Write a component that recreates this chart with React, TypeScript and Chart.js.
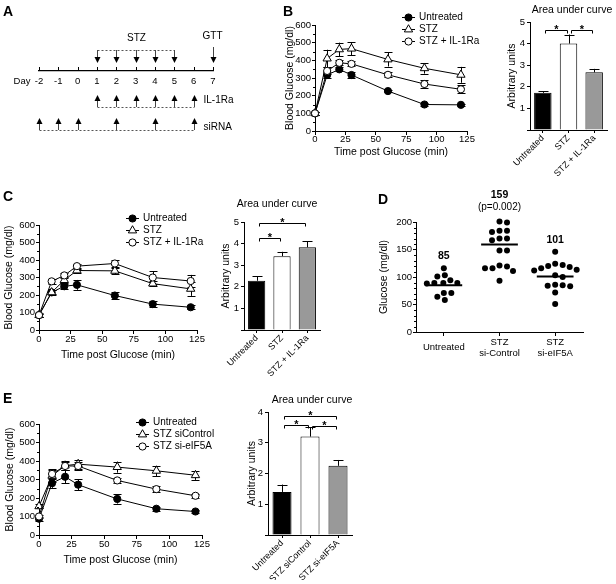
import React, { useEffect, useRef } from 'react';
import { Chart, registerables } from 'chart.js';

Chart.register(...registerables);

const FONT = "'Liberation Sans', Arial, Helvetica, sans-serif";
Chart.defaults.font.family = FONT;
Chart.defaults.font.size = 9;
Chart.defaults.color = '#000';

const W = 616;
const H = 584;

// ---------------- DATA ----------------
const timePoints = [0, 10, 20, 30, 60, 90, 120];

// Panel A timeline
const timelineDays = [-2, -1, 0, 1, 2, 3, 4, 5, 6, 7];
const stzDays = [1, 2, 3, 4, 5];
const gttDays = [7];
const il1raDays = [1, 2, 3, 4, 5, 6];
const sirnaDays = [-2, -1, 0, 2, 4, 6];

// Panel B
const bSeriesLabels = ['Untreated', 'STZ', 'STZ + IL-1Ra'];
const bUntreated = [100, 317, 349, 317, 226, 150, 148];
const bUntreatedErr = [8, 15, 12, 18, 8, 6, 6];
const bStz = [100, 410, 462, 466, 405, 355, 318];
const bStzErr = [8, 50, 38, 36, 40, 30, 45];
const bIl1ra = [100, 340, 386, 380, 318, 266, 236];
const bIl1raErr = [8, 20, 15, 14, 15, 22, 22];
const bAucLabels = ['Untreated', 'STZ', 'STZ + IL-1Ra'];
const bAuc = [1.72, 4.0, 2.67];
const bAucErr = [0.08, 0.42, 0.16];
const bBrackets = [{ a: 0, b: 1, y: 4.65 }, { a: 1, b: 2, y: 4.65 }];

// Panel C
const cSeriesLabels = ['Untreated', 'STZ', 'STZ + IL-1Ra'];
const cUntreated = [85, 215, 250, 258, 197, 148, 130];
const cUntreatedErr = [8, 15, 18, 28, 20, 15, 12];
const cStz = [85, 215, 285, 340, 338, 265, 235];
const cStzErr = [8, 12, 20, 15, 18, 15, 40];
const cIl1ra = [85, 278, 312, 365, 380, 300, 280];
const cIl1raErr = [10, 15, 15, 15, 18, 35, 35];
const cAucLabels = ['Untreated', 'STZ', 'STZ + IL-1Ra'];
const cAuc = [2.28, 3.42, 3.83];
const cAucErr = [0.2, 0.2, 0.27];
const cBrackets = [{ a: 0, b: 2, y: 4.95 }, { a: 0, b: 1, y: 4.27 }];

// Panel D
const dGroupNames: (string | string[])[] = ['Untreated', ['STZ', 'si-Control'], ['STZ', 'si-eIF5A']];
const dUntreated = [116, 103, 101, 94, 89, 89, 89, 88, 71, 71, 64, 58];
const dSiControl = [201, 199, 184, 182, 184, 170, 167, 170, 148, 148, 119, 116, 111, 116, 121, 93];
const dSiEif5a = [146, 124, 122, 120, 118, 116, 113, 112, 103, 100, 85, 84, 86, 83, 72, 51];
const dMeans = [85, 159, 101];
const dPValues = ['', '(p=0.002)', ''];

// Panel E
const eSeriesLabels = ['Untreated', 'STZ siControl', 'STZ si-eIF5A'];
const eUntreated = [88, 280, 315, 272, 195, 142, 127];
const eUntreatedErr = [10, 25, 35, 30, 25, 12, 8];
const eSiControl = [155, 320, 375, 383, 367, 347, 323];
const eSiControlErr = [10, 35, 25, 25, 30, 28, 25];
const eSiEif5a = [100, 330, 373, 373, 295, 248, 212];
const eSiEif5aErr = [10, 22, 20, 22, 15, 15, 12];
const eAucLabels = ['Untreated', 'STZ siControl', 'STZ si-eIF5A'];
const eAuc = [1.4, 3.2, 2.25];
const eAucErr = [0.24, 0.3, 0.19];
const eBrackets = [{ a: 0, b: 2, y: 3.88 }, { a: 0, b: 1, y: 3.58 }, { a: 1, b: 2, y: 3.55 }];

// ---------------- LAYOUT ----------------
type Box = { left: number; right: number; top: number; bottom: number; yw: number; xh: number };
const boxA: Box = { left: 39, right: 213, top: 20, bottom: 71, yw: 0, xh: 20 };
const boxB: Box = { left: 315, right: 467, top: 25, bottom: 131, yw: 31, xh: 27 };
const boxBbar: Box = { left: 530, right: 607, top: 22, bottom: 130, yw: 24, xh: 75 };
const boxC: Box = { left: 39, right: 197, top: 225, bottom: 330, yw: 36, xh: 31 };
const boxCbar: Box = { left: 244, right: 320, top: 222, bottom: 330, yw: 24, xh: 75 };
const boxD: Box = { left: 416, right: 583, top: 222, bottom: 332, yw: 38, xh: 30 };
const boxE: Box = { left: 39, right: 202, top: 424, bottom: 535, yw: 35, xh: 31 };
const boxEbar: Box = { left: 268, right: 352, top: 412, bottom: 535, yw: 22, xh: 45 };

const padFor = (b: Box) => ({ left: b.left - b.yw, top: b.top, right: W - b.right, bottom: H - b.bottom - b.xh });
const fit = (size: number) => (axis: any) => {
  if (axis.isHorizontal()) axis.height = size;
  else axis.width = size;
  axis.paddingLeft = 0;
  axis.paddingRight = 0;
  axis.paddingTop = 0;
  axis.paddingBottom = 0;
};
const gridOpts = (len: number) => ({ drawOnChartArea: false, color: '#000', lineWidth: 1, tickLength: len });
const borderOpts = { display: true, color: '#000', width: 1 };

// ---------------- PLUGINS ----------------
function textPlugin(items: { text: string; x: number; y: number; font?: string; align?: string; baseline?: string }[]) {
  return {
    id: 'texts',
    afterDraw(chart: any) {
      const ctx = chart.ctx;
      ctx.save();
      ctx.fillStyle = '#000';
      for (const it of items) {
        ctx.font = it.font || `10px ${FONT}`;
        ctx.textAlign = it.align || 'center';
        ctx.textBaseline = it.baseline || 'middle';
        ctx.fillText(it.text, it.x, it.y);
      }
      ctx.restore();
    },
  };
}

function errorBarPlugin(errs: number[][], cap: number, upOnly: boolean) {
  const draw = (chart: any) => {
    const ctx = chart.ctx;
    ctx.save();
    ctx.strokeStyle = '#000';
    ctx.lineWidth = 1;
    errs.forEach((arr, di) => {
      if (!arr) return;
      const meta = chart.getDatasetMeta(di);
      const ys = chart.scales[meta.yAxisID];
      const ds = chart.data.datasets[di];
      meta.data.forEach((el: any, i: number) => {
        const raw = ds.data[i];
        const v = typeof raw === 'number' ? raw : raw.y;
        const x = Math.round(el.x) + 0.5;
        const yt = ys.getPixelForValue(v + arr[i]);
        const yb = upOnly ? ys.getPixelForValue(v) : ys.getPixelForValue(v - arr[i]);
        ctx.beginPath();
        ctx.moveTo(x, yb);
        ctx.lineTo(x, yt);
        ctx.moveTo(x - cap, Math.round(yt) + 0.5);
        ctx.lineTo(x + cap, Math.round(yt) + 0.5);
        if (!upOnly) {
          ctx.moveTo(x - cap, Math.round(yb) + 0.5);
          ctx.lineTo(x + cap, Math.round(yb) + 0.5);
        }
        ctx.stroke();
      });
    });
    ctx.restore();
  };
  return upOnly ? { id: 'errorBars', afterDatasetsDraw: draw } : { id: 'errorBars', beforeDatasetsDraw: draw };
}

function minorTicksPlugin(specs: { axis: string; step: number; len: number }[]) {
  return {
    id: 'minorTicks',
    afterDraw(chart: any) {
      const ctx = chart.ctx;
      ctx.save();
      ctx.strokeStyle = '#000';
      ctx.lineWidth = 1;
      for (const s of specs) {
        const sc = chart.scales[s.axis];
        const major = sc.ticks.map((t: any) => t.value);
        for (let v = sc.min; v <= sc.max + 1e-9; v += s.step) {
          if (major.some((m: number) => Math.abs(m - v) < 1e-6)) continue;
          const p = Math.round(sc.getPixelForValue(v)) + 0.5;
          ctx.beginPath();
          if (s.axis === 'y') {
            const x = chart.chartArea.left;
            ctx.moveTo(x - s.len, p);
            ctx.lineTo(x, p);
          } else {
            const y = chart.chartArea.bottom;
            ctx.moveTo(p, y);
            ctx.lineTo(p, y + s.len);
          }
          ctx.stroke();
        }
      }
      ctx.restore();
    },
  };
}

function drawMarker(ctx: any, style: string, x: number, y: number, r: number, fill: string) {
  ctx.beginPath();
  if (style === 'triangle') {
    let rad = 0;
    ctx.moveTo(x + Math.sin(rad) * r, y - Math.cos(rad) * r);
    rad += (2 * Math.PI) / 3;
    ctx.lineTo(x + Math.sin(rad) * r, y - Math.cos(rad) * r);
    rad += (2 * Math.PI) / 3;
    ctx.lineTo(x + Math.sin(rad) * r, y - Math.cos(rad) * r);
    ctx.closePath();
  } else {
    ctx.arc(x, y, r, 0, Math.PI * 2);
  }
  ctx.fillStyle = fill;
  ctx.fill();
  ctx.strokeStyle = '#000';
  ctx.lineWidth = 1;
  ctx.stroke();
}

function lineLegendPlugin(x: number, y: number, dy: number) {
  return {
    id: 'lineLegend',
    afterDraw(chart: any) {
      const ctx = chart.ctx;
      ctx.save();
      chart.data.datasets.forEach((ds: any, i: number) => {
        const yy = y + i * dy;
        ctx.strokeStyle = '#000';
        ctx.lineWidth = 1;
        ctx.beginPath();
        ctx.moveTo(x, Math.round(yy) + 0.5);
        ctx.lineTo(x + 13, Math.round(yy) + 0.5);
        ctx.stroke();
        drawMarker(ctx, ds.pointStyle, x + 6.5, yy + 0.5, ds.pointRadius, ds.pointBackgroundColor);
        ctx.fillStyle = '#000';
        ctx.font = `10px ${FONT}`;
        ctx.textAlign = 'left';
        ctx.textBaseline = 'middle';
        ctx.fillText(ds.label, x + 17, yy + 0.5);
      });
      ctx.restore();
    },
  };
}

function bracketPlugin(brackets: { a: number; b: number; y: number }[]) {
  return {
    id: 'brackets',
    afterDraw(chart: any) {
      const ctx = chart.ctx;
      const xs = chart.scales.x;
      const ys = chart.scales.y;
      ctx.save();
      ctx.strokeStyle = '#000';
      ctx.lineWidth = 1;
      for (const br of brackets) {
        const x1 = Math.round(xs.getPixelForValue(br.a)) + 2.5;
        const x2 = Math.round(xs.getPixelForValue(br.b)) - 1.5;
        const y = Math.round(ys.getPixelForValue(br.y)) + 0.5;
        ctx.beginPath();
        ctx.moveTo(x1, y + 3);
        ctx.lineTo(x1, y);
        ctx.lineTo(x2, y);
        ctx.lineTo(x2, y + 3);
        ctx.stroke();
        ctx.fillStyle = '#000';
        ctx.font = `bold 11px ${FONT}`;
        ctx.textAlign = 'center';
        ctx.textBaseline = 'alphabetic';
        ctx.fillText('*', (x1 + x2) / 2, y + 2);
      }
      ctx.restore();
    },
  };
}

function timelinePlugin() {
  return {
    id: 'timeline',
    afterDraw(chart: any) {
      const ctx = chart.ctx;
      const xs = chart.scales.x;
      const y0 = chart.chartArea.bottom;
      const px = (d: number) => Math.round(xs.getPixelForValue(d)) + 0.5;
      ctx.save();
      ctx.strokeStyle = '#000';
      ctx.lineWidth = 1;
      timelineDays.forEach((d) => {
        ctx.beginPath();
        ctx.moveTo(px(d), y0);
        ctx.lineTo(px(d), y0 - 4);
        ctx.stroke();
      });
      const arrow = (x: number, from: number, tip: number) => {
        const dir = tip > from ? 1 : -1;
        ctx.strokeStyle = '#444';
        ctx.beginPath();
        ctx.moveTo(x, from);
        ctx.lineTo(x, tip - dir * 5);
        ctx.stroke();
        ctx.fillStyle = '#000';
        ctx.beginPath();
        ctx.moveTo(x, tip);
        ctx.lineTo(x - 3, tip - dir * 6);
        ctx.lineTo(x + 3, tip - dir * 6);
        ctx.closePath();
        ctx.fill();
      };
      const dashed = (d1: number, d2: number, y: number) => {
        ctx.save();
        ctx.strokeStyle = '#555';
        ctx.setLineDash([2, 2]);
        ctx.beginPath();
        ctx.moveTo(px(d1), y);
        ctx.lineTo(px(d2), y);
        ctx.stroke();
        ctx.restore();
      };
      const text = (t: string, x: number, y: number, align: string) => {
        ctx.fillStyle = '#000';
        ctx.font = `10px ${FONT}`;
        ctx.textAlign = align;
        ctx.textBaseline = 'middle';
        ctx.fillText(t, x, y);
      };
      dashed(stzDays[0], stzDays[stzDays.length - 1], y0 - 20.5);
      stzDays.forEach((d) => arrow(px(d), y0 - 21, y0 - 8));
      text('STZ', px(stzDays[Math.floor(stzDays.length / 2)]), y0 - 33, 'center');
      gttDays.forEach((d) => {
        arrow(px(d), y0 - 24, y0 - 8);
        text('GTT', px(d) - 1, y0 - 35, 'center');
      });
      dashed(il1raDays[0], il1raDays[il1raDays.length - 1], y0 + 36.5);
      il1raDays.forEach((d) => arrow(px(d), y0 + 36, y0 + 24));
      text('IL-1Ra', px(il1raDays[il1raDays.length - 1]) + 9, y0 + 29, 'left');
      dashed(sirnaDays[0], sirnaDays[sirnaDays.length - 1], y0 + 59.5);
      sirnaDays.forEach((d) => arrow(px(d), y0 + 59, y0 + 47));
      text('siRNA', px(sirnaDays[sirnaDays.length - 1]) + 9, y0 + 56, 'left');
      ctx.restore();
    },
  };
}

function meanLabelPlugin(groups: number[][]) {
  return {
    id: 'meanLabels',
    afterDraw(chart: any) {
      const ctx = chart.ctx;
      const xs = chart.scales.x;
      const ys = chart.scales.y;
      ctx.save();
      ctx.fillStyle = '#000';
      ctx.textAlign = 'center';
      ctx.textBaseline = 'middle';
      groups.forEach((vals, gi) => {
        const x = xs.getPixelForValue(gi + 1);
        const top = ys.getPixelForValue(Math.max(...vals));
        let y = top - 12;
        if (dPValues[gi]) {
          ctx.font = `10px ${FONT}`;
          ctx.fillText(dPValues[gi], x, top - 14);
          y = top - 26;
        }
        ctx.font = `bold 10.5px ${FONT}`;
        ctx.fillText(String(dMeans[gi]), x, y);
      });
      ctx.restore();
    },
  };
}

function beeswarm(vals: number[], center: number, pxX: number, pxY: number, minDist: number) {
  const sorted = [...vals].sort((a, b) => b - a);
  const placed: { x: number; y: number }[] = [];
  for (const v of sorted) {
    const py = v * pxY;
    let off = 0;
    for (let k = 0; k < 400; k++) {
      const cand = k === 0 ? 0 : (k % 2 ? 1 : -1) * Math.ceil(k / 2) * 0.5;
      if (placed.every((p) => Math.hypot(p.x - cand, p.y - py) >= minDist)) {
        off = cand;
        break;
      }
    }
    placed.push({ x: off, y: py });
  }
  return placed.map((p) => ({ x: center + p.x / pxX, y: p.y / pxY }));
}

// ---------------- CONFIGS ----------------
const baseOptions = (box: Box) => ({
  responsive: false,
  animation: false,
  events: [],
  devicePixelRatio: 1,
  layout: { padding: padFor(box) },
  plugins: { legend: { display: false }, tooltip: { enabled: false } },
});

type Series = { label: string; values: number[]; err: number[]; style: string };

function lineConfig(box: Box, series: Series[], legend: { x: number; y: number }, xTickPad: number) {
  return {
    type: 'line',
    data: {
      datasets: series.map((s, i) => ({
        label: s.label,
        data: timePoints.map((t, j) => ({ x: t, y: s.values[j] })),
        borderColor: '#000',
        borderWidth: 1,
        tension: 0,
        fill: false,
        clip: false,
        order: series.length - i,
        pointStyle: s.style === 'triangle' ? 'triangle' : 'circle',
        pointRadius: s.style === 'triangle' ? 4.8 : 3.6,
        pointBackgroundColor: s.style === 'filled' ? '#000' : '#fff',
        pointBorderColor: '#000',
        pointBorderWidth: 1,
      })),
    },
    options: {
      ...baseOptions(box),
      scales: {
        x: {
          type: 'linear',
          min: 0,
          max: 125,
          ticks: { stepSize: 25, padding: xTickPad, font: { size: 9.5 } },
          grid: gridOpts(4),
          border: borderOpts,
          title: { display: true, text: 'Time post Glucose (min)', padding: 0, font: { size: 10.5 } },
          afterFit: fit(box.xh),
        },
        y: {
          type: 'linear',
          min: 0,
          max: 600,
          ticks: { stepSize: 100, padding: 1, font: { size: 9.5 } },
          grid: gridOpts(3),
          border: borderOpts,
          title: { display: true, text: 'Blood Glucose (mg/dl)', padding: 0, font: { size: 10.5 } },
          afterFit: fit(box.yw),
        },
      },
    },
    plugins: [
      errorBarPlugin(series.map((s) => s.err), 4, false),
      minorTicksPlugin([{ axis: 'y', step: 50, len: 2 }]),
      lineLegendPlugin(legend.x, legend.y, 12),
    ],
  };
}

function barConfig(box: Box, labels: string[], values: number[], errs: number[], yMax: number, brackets: any[], title: { x: number; y: number }) {
  return {
    type: 'bar',
    data: {
      labels,
      datasets: [
        {
          data: values,
          backgroundColor: ['#000', '#fff', '#999'],
          borderColor: '#000',
          borderWidth: 1,
          borderSkipped: 'start',
          barPercentage: 0.68,
          categoryPercentage: 1,
        },
      ],
    },
    options: {
      ...baseOptions(box),
      scales: {
        x: {
          grid: { ...gridOpts(3), offset: false },
          border: borderOpts,
          ticks: { minRotation: 45, maxRotation: 45, autoSkip: false, padding: 0, font: { size: 9 } },
          afterFit: fit(box.xh),
        },
        y: {
          min: 0,
          max: yMax,
          ticks: { stepSize: 1, padding: 2, font: { size: 9.5 }, callback: (v: number) => (v === 0 ? '' : String(v)) },
          grid: gridOpts(3),
          border: borderOpts,
          title: { display: true, text: 'Arbitrary units', padding: 0, font: { size: 10.5 } },
          afterFit: fit(box.yw),
        },
      },
    },
    plugins: [
      errorBarPlugin([errs], 5, true),
      bracketPlugin(brackets),
      textPlugin([{ text: 'Area under curve', x: title.x, y: title.y, font: `10.5px ${FONT}` }]),
    ],
  };
}

function configA() {
  const letter = `bold 14px ${FONT}`;
  return {
    type: 'scatter',
    data: { datasets: [] },
    options: {
      ...baseOptions(boxA),
      scales: {
        x: {
          type: 'linear',
          min: timelineDays[0],
          max: timelineDays[timelineDays.length - 1],
          ticks: { stepSize: 1, padding: 5, font: { size: 9.5 } },
          grid: { drawOnChartArea: false, drawTicks: false, color: '#000' },
          border: { display: true, color: '#000', width: 1.3 },
          afterFit: fit(boxA.xh),
        },
        y: { display: false, min: 0, max: 1 },
      },
    },
    plugins: [
      timelinePlugin(),
      textPlugin([
        { text: 'Day', x: 22, y: 81.5, font: `9.5px ${FONT}` },
        { text: 'A', x: 3, y: 16, font: letter, align: 'left', baseline: 'alphabetic' },
        { text: 'B', x: 283, y: 16, font: letter, align: 'left', baseline: 'alphabetic' },
        { text: 'C', x: 3, y: 201, font: letter, align: 'left', baseline: 'alphabetic' },
        { text: 'D', x: 378, y: 204, font: letter, align: 'left', baseline: 'alphabetic' },
        { text: 'E', x: 3, y: 403, font: letter, align: 'left', baseline: 'alphabetic' },
      ]),
    ],
  };
}

function configD() {
  const groups = [dUntreated, dSiControl, dSiEif5a];
  const pxX = (boxD.right - boxD.left) / 3;
  const pxY = (boxD.bottom - boxD.top) / 200;
  return {
    type: 'scatter',
    data: {
      datasets: [
        ...groups.map((vals, gi) => ({
          data: beeswarm(vals, gi + 1, pxX, pxY, 7.2),
          pointRadius: 3,
          pointBackgroundColor: '#000',
          pointBorderColor: '#000',
          pointBorderWidth: 0,
          clip: false,
        })),
        ...dMeans.map((m, gi) => ({
          type: 'line',
          data: [
            { x: gi + 1 - 0.33, y: m },
            { x: gi + 1 + 0.33, y: m },
          ],
          borderColor: '#000',
          borderWidth: 2,
          pointRadius: 0,
          clip: false,
        })),
      ],
    },
    options: {
      ...baseOptions(boxD),
      scales: {
        x: {
          type: 'linear',
          min: 0.5,
          max: 3.5,
          afterBuildTicks: (s: any) => {
            s.ticks = dGroupNames.map((_, i) => ({ value: i + 1 }));
          },
          ticks: { callback: (v: number) => dGroupNames[Math.round(v) - 1], padding: 6, crossAlign: 'center', font: { size: 9.5 } },
          grid: gridOpts(4),
          border: borderOpts,
          afterFit: fit(boxD.xh),
        },
        y: {
          min: 0,
          max: 200,
          ticks: { stepSize: 50, padding: 1, font: { size: 9.5 } },
          grid: gridOpts(3),
          border: borderOpts,
          title: { display: true, text: 'Glucose (mg/dl)', padding: 0, font: { size: 10.5 } },
          afterFit: fit(boxD.yw),
        },
      },
    },
    plugins: [minorTicksPlugin([{ axis: 'y', step: 10, len: 2 }]), meanLabelPlugin(groups)],
  };
}

const makers: (() => any)[] = [
  configA,
  () =>
    lineConfig(
      boxB,
      [
        { label: bSeriesLabels[0], values: bUntreated, err: bUntreatedErr, style: 'filled' },
        { label: bSeriesLabels[1], values: bStz, err: bStzErr, style: 'triangle' },
        { label: bSeriesLabels[2], values: bIl1ra, err: bIl1raErr, style: 'open' },
      ],
      { x: 402, y: 17 },
      -1
    ),
  () => barConfig(boxBbar, bAucLabels, bAuc, bAucErr, 5, bBrackets, { x: 572, y: 10 }),
  () =>
    lineConfig(
      boxC,
      [
        { label: cSeriesLabels[0], values: cUntreated, err: cUntreatedErr, style: 'filled' },
        { label: cSeriesLabels[1], values: cStz, err: cStzErr, style: 'triangle' },
        { label: cSeriesLabels[2], values: cIl1ra, err: cIl1raErr, style: 'open' },
      ],
      { x: 126, y: 218 },
      0
    ),
  () => barConfig(boxCbar, cAucLabels, cAuc, cAucErr, 5, cBrackets, { x: 277, y: 204 }),
  configD,
  () =>
    lineConfig(
      boxE,
      [
        { label: eSeriesLabels[0], values: eUntreated, err: eUntreatedErr, style: 'filled' },
        { label: eSeriesLabels[1], values: eSiControl, err: eSiControlErr, style: 'triangle' },
        { label: eSeriesLabels[2], values: eSiEif5a, err: eSiEif5aErr, style: 'open' },
      ],
      { x: 136, y: 422 },
      0
    ),
  () => barConfig(boxEbar, eAucLabels, eAuc, eAucErr, 4, eBrackets, { x: 312, y: 400 }),
];

function ChartCanvas({ make }: { make: () => any }) {
  const ref = useRef<HTMLCanvasElement>(null);
  useEffect(() => {
    const chart = new Chart(ref.current as HTMLCanvasElement, make());
    return () => chart.destroy();
  }, [make]);
  return (
    <canvas
      ref={ref}
      width={W}
      height={H}
      style={{ position: 'absolute', left: 0, top: 0, width: W, height: H }}
    />
  );
}

export default function App() {
  return (
    <div style={{ position: 'fixed', left: 0, top: 0, width: W, height: H, background: '#fff', overflow: 'hidden' }}>
      {makers.map((m, i) => (
        <ChartCanvas key={i} make={m} />
      ))}
    </div>
  );
}
